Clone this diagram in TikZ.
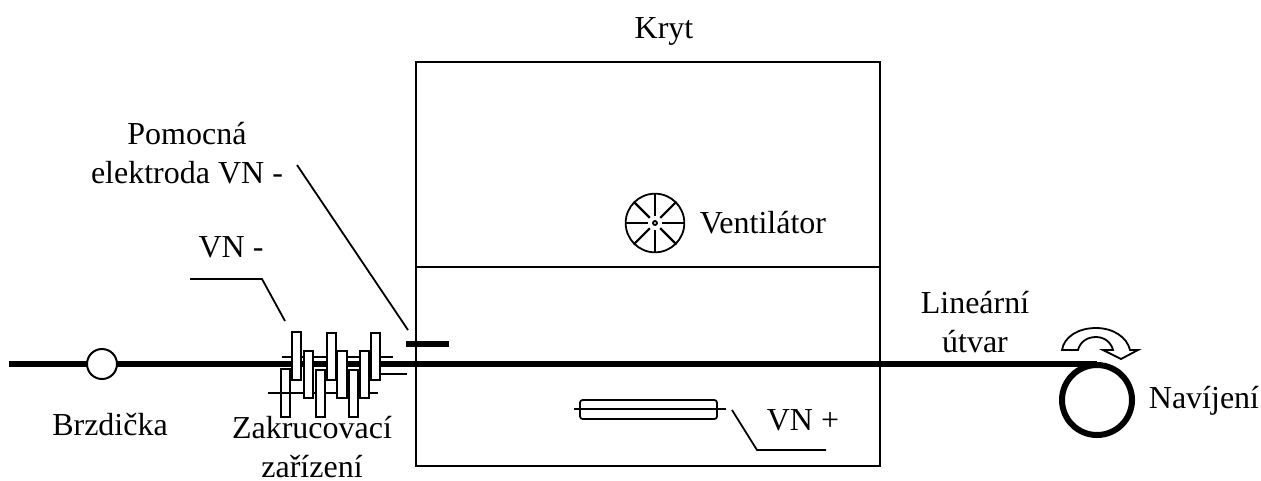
\documentclass[tikz,border=0pt]{standalone}
\usepackage{fontspec}
\setmainfont{Liberation Serif}
\tikzset{
  px/.style={x=0.75pt,y=-0.75pt},
  thin line/.style={draw=black,line width=1.35pt},
  thread/.style={draw=black,line width=4.5pt},
  plate/.style={draw=black,fill=white,line width=1.35pt},
  lbl/.style={font=\fontsize{24}{28.9}\selectfont,align=center,inner sep=0pt,text=black},
}
\begin{document}
\begin{tikzpicture}[px]
\useasboundingbox (0,0) rectangle (1261,480);
\coordinate (threadL) at (9,364);
\coordinate (threadR) at (1097,364);
% housing
\node[draw=black,line width=1.35pt,minimum width=348pt,minimum height=303pt,inner sep=0pt] (box) at (648,264) {};
\coordinate (divL) at (416,267);
\coordinate (divR) at (880,267);
\draw[thin line] (divL) -- (divR);
% thin cross bars of the twister
\coordinate (b1a) at (282,357); \coordinate (b1b) at (393,357);
\coordinate (b2a) at (375,374); \coordinate (b2b) at (407,374);
\coordinate (b3a) at (268,393); \coordinate (b3b) at (378,393);
% main thread
\draw[thread] (threadL) -- (threadR);
\draw[thin line] (b1a) -- (b1b);
\draw[thin line] (b2a) -- (b2b);
% twister plates
\draw[plate] (281,369) rectangle (290,417);
\draw[thin line] (b3a) -- (b3b);
\foreach \xa/\ya/\xb/\yb in {
  316/370/325/417, 349/370/358/417,
  292/332/301/380, 327/333/336/380, 371/333/380/380,
  304/351/313/398, 337/351/347/398, 360/351/369/398}{
  \draw[plate] (\xa,\ya) rectangle (\xb,\yb);
}
% brake
\node[circle,draw=black,fill=white,line width=1.5pt,minimum size=22.5pt,inner sep=0pt] (brake) at (102,364) {};
% auxiliary electrode
\coordinate (auxA) at (406,344); \coordinate (auxB) at (449,344);
\draw[thread] (auxA) -- (auxB);
% leaders
\coordinate (la) at (297,165); \coordinate (lb) at (408,330);
\draw[thin line] (la) -- (lb);
\coordinate (va) at (190,279); \coordinate (vb) at (262,279); \coordinate (vc) at (285,321);
\draw[thin line] (va) -- (vb) -- (vc);
% fan
\node[circle,draw=black,line width=1.35pt,minimum size=44pt,inner sep=0pt] (fan) at (655,223) {};
\node[circle,draw=black,line width=1.35pt,minimum size=3pt,inner sep=0pt] (hub) at (655,223) {};
\foreach \a in {0,45,...,315}{
  \draw[draw=black,line width=1.6pt] (hub.center)++(\a:5.5pt) -- (fan.\a);
}
% VN+ electrode
\draw[thin line,rounded corners=2pt] (580,400) rectangle (717,419);
\coordinate (ea) at (574,409); \coordinate (eb) at (726,409);
\draw[thin line] (ea) -- (eb);
\coordinate (pa) at (732,410); \coordinate (pb) at (757,450); \coordinate (pc) at (826,450);
\draw[thin line] (pa) -- (pb) -- (pc);
% roller
\node[circle,draw=black,line width=4.5pt,minimum size=52.5pt,inner sep=0pt] (roller) at (1097,400) {};
% hollow curved arrow
\draw[plate,line join=miter] (1062,350) .. controls (1064,337) and (1078,328) .. (1096,328)
  .. controls (1113,328) and (1127,337) .. (1130,350) -- (1138,350) -- (1121,359) -- (1103,350) -- (1113,350)
  .. controls (1111,342) and (1104,337) .. (1096,337) .. controls (1087,337) and (1080,342) .. (1078,350) -- cycle;
% labels
\node[lbl,anchor=base] (kryt) at (664,38) {Kryt};
\node[lbl] (pom) at (187,153) {Pomocná\\elektroda VN -};
\node[lbl,anchor=base] (vnm) at (231,257) {VN -};
\node[lbl,anchor=base] (vent) at (763,233) {Ventilátor};
\node[lbl] (lin) at (975,322) {Lineární\\útvar};
\node[lbl,anchor=base] (nav) at (1204,408) {Navíjení};
\node[lbl,anchor=base] (brz) at (110,435) {Brzdička};
\node[lbl] (zak) at (312,447) {Zakrucovací\\zařízení};
\node[lbl,anchor=base] (vnp) at (803,430) {VN +};
\end{tikzpicture}
\end{document}
